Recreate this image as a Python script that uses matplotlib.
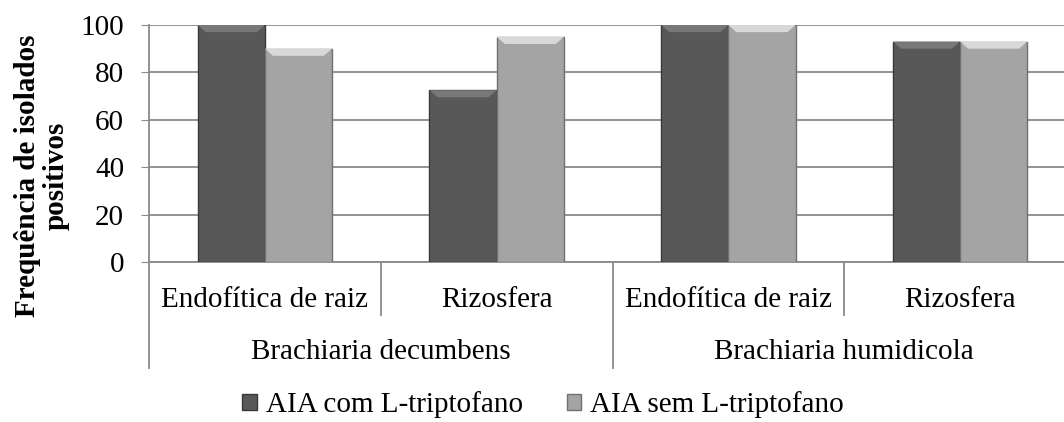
import matplotlib.pyplot as plt
import numpy as np
from matplotlib.transforms import blended_transform_factory
from matplotlib.patches import Patch, Polygon

plt.rcParams['font.family'] = ['Liberation Serif', 'DejaVu Serif']

subcats = ["Endofítica de raiz", "Rizosfera", "Endofítica de raiz", "Rizosfera"]
groups = ["Brachiaria decumbens", "Brachiaria humidicola"]
com_trp = [100, 72.5, 100, 93]
sem_trp = [90, 95, 100, 93]
series = ["AIA com L-triptofano", "AIA sem L-triptofano"]
colors = ["#585858", "#a4a4a4"]
bevels = ["#787878", "#d8d8d8"]
edges = ["#383838", "#707070"]

FS = 21
fig = plt.figure(figsize=(10.64, 4.22), dpi=100)
W, H = 1064, 422
ax = fig.add_axes([149 / W, (H - 262) / H, (1076 - 149) / W, (262 - 25) / H])

x = np.arange(len(subcats))
w = 0.29
bev_h = 3.0   # bevel height in data units (~7 px)
bev_w = 0.035
for vals, off, c, bc, ec in zip([com_trp, sem_trp], [-w / 2, w / 2], colors, bevels, edges):
    ax.bar(x + off, vals, width=w, color=c, edgecolor=ec, linewidth=1, zorder=3)
    for xi, v in zip(x + off, vals):
        l, r = xi - w / 2, xi + w / 2
        ax.add_patch(Polygon([(l, v), (r, v), (r - bev_w, v - bev_h), (l + bev_w, v - bev_h)],
                             closed=True, facecolor=bc, edgecolor='none', zorder=4))

ax.set_xlim(-0.5, 3.5)
ax.set_ylim(0, 100)
ax.set_yticks(range(0, 101, 20))
ax.tick_params(axis='y', labelsize=FS, length=6, color='#8a8a8a', pad=12)
ax.set_xticks([])
ax.grid(axis='y', color='#8a8a8a', linewidth=1.3, zorder=0)
for s in ['top', 'right']:
    ax.spines[s].set_visible(False)
for s in ['left', 'bottom']:
    ax.spines[s].set_color('#8a8a8a')
    ax.spines[s].set_linewidth(1.3)

fig.text(42 / W, (H - 176) / H, "Frequência de isolados\npositivos", rotation=90,
         ha='center', va='center', fontsize=FS, fontweight='bold', linespacing=1.1,
         multialignment='center')

# multi-level category axis
tr = blended_transform_factory(ax.transData, fig.transFigure)
def fy(p):
    return (H - p) / H

for xs, ybot in [(-0.5, 368), (0.5, 315), (1.5, 368), (2.5, 315)]:
    ax.plot([xs, xs], [fy(262), fy(ybot)], color='#8a8a8a', lw=1.3,
            transform=tr, clip_on=False)
for xi, lab in zip(x, subcats):
    ax.text(xi, fy(300), lab, transform=tr, ha='center', va='center', fontsize=FS)
for gi, g in enumerate(groups):
    ax.text(2 * gi + 0.5, fy(352), g, transform=tr, ha='center', va='center', fontsize=FS)

handles = [Patch(facecolor=c, edgecolor=e) for c, e in zip(colors, edges)]
fig.legend(handles, series, loc='center', bbox_to_anchor=(543 / W, fy(405)), ncol=2,
           frameon=False, fontsize=FS, handlelength=0.5, handleheight=0.5,
           handletextpad=0.3, columnspacing=1.5, borderpad=0)

fig.savefig("out.png", dpi=100)
